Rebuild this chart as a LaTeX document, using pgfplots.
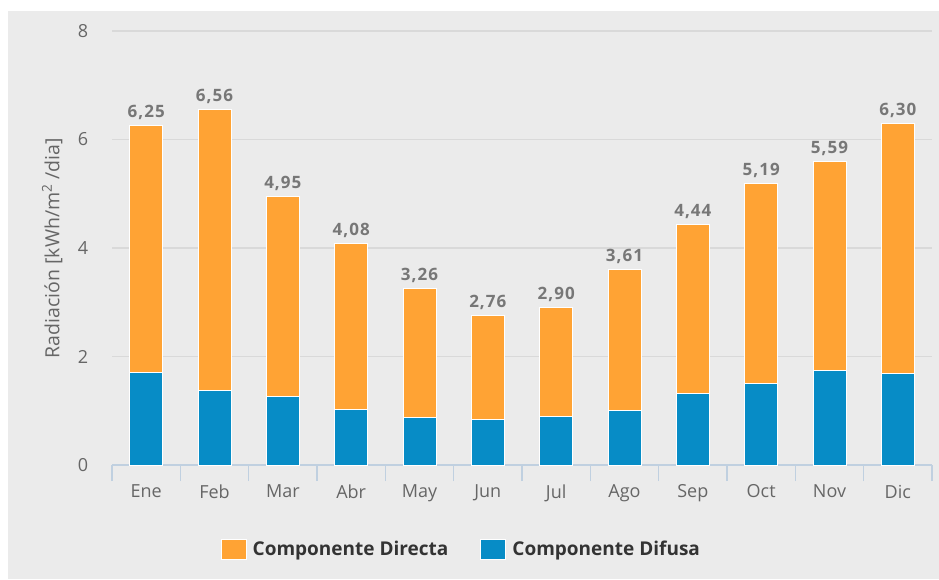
\documentclass[border=0pt]{standalone}
\usepackage{fontspec}
\setmainfont{Open Sans}
\newfontfamily\labfont[LetterSpace=6]{Open Sans}
\usepackage{pgfplots}
\pgfplotsset{compat=1.18}
\usepackage{pgfplotstable}

\definecolor{bgc}{HTML}{EBEBEB}
\definecolor{dirc}{HTML}{FFA334}
\definecolor{difc}{HTML}{078CC6}
\definecolor{gridc}{HTML}{D9D9D9}
\definecolor{axc}{HTML}{C0D0E0}
\definecolor{tickc}{HTML}{666666}
\definecolor{labc}{HTML}{777777}
\definecolor{legc}{HTML}{333333}

% x, difusa, total (directa = total - difusa)
\pgfplotstableread{
x dif tot
0 1.70 6.25
1 1.38 6.56
2 1.26 4.95
3 1.03 4.08
4 0.87 3.26
5 0.83 2.76
6 0.90 2.90
7 1.01 3.61
8 1.32 4.44
9 1.51 5.19
10 1.75 5.59
11 1.69 6.30
}\radtable

\begin{document}
\begin{tikzpicture}[x=1pt,y=1pt]
\path[use as bounding box] (0,0) rectangle (939,579);
\fill[bgc] (8,0) rectangle (939,568);
\begin{axis}[
    at={(112pt,114pt)}, anchor=south west,
    scale only axis, width=820pt, height=434pt,
    ybar, bar width=33pt, bar shift=0pt,
    xmin=-0.5, xmax=11.5, ymin=0, ymax=8,
    xtick={0,...,11},
    xticklabels={Ene,Feb,Mar,Abr,May,Jun,Jul,Ago,Sep,Oct,Nov,Dic},
    minor xtick={-0.5,0.5,...,11.5},
    ytick={0,2,...,8},
    major x tick style={draw=none},
    minor x tick style={draw=axc, line width=1.5pt},
    minor tick length=16pt,
    xtick pos=bottom, tick align=outside,
    major y tick style={draw=none},
    ymajorgrids, grid style={gridc, line width=1.5pt},
    axis x line*=bottom, axis y line*=left,
    separate axis lines,
    x axis line style={draw=axc, line width=1.5pt, -},
    y axis line style={draw=none},
    /pgf/number format/assume math mode=true,
    tick label style={font=\fontsize{18}{21}\selectfont, text=tickc},
    xticklabel style={yshift=-12pt},
    yticklabel style={xshift=-16pt},
    ylabel={Radiación [kWh/m\textsuperscript{2} /dia]},
    ylabel style={at={(axis description cs:-0.073,0.5)}, anchor=center,
        font=\fontsize{19.5}{22}\selectfont, text=tickc},
    legend style={at={(0.426,-0.194)}, anchor=center, draw=none, fill=none,
        legend columns=2, font=\bfseries\fontsize{19}{22}\selectfont, text=legc,
        /tikz/every even column/.append style={column sep=30pt}},
    legend image code/.code={\fill[#1] (0pt,-10pt) rectangle (25pt,10pt);},
    legend cell align=left,
    clip=false,
]
\addplot[fill=dirc, draw=white, line width=1pt,
    nodes near coords={\pgfmathprintnumber[fixed,fixed zerofill,precision=2,use comma]{\pgfplotspointmeta}},
    every node near coord/.append style={font=\labfont\bfseries\fontsize{17}{20}\selectfont,
        text=labc, anchor=south, yshift=2pt}]
    table[x=x,y=tot] {\radtable};
\addlegendentry{\hspace{4pt}Componente Directa}
\addplot[fill=difc, draw=white, line width=1pt] table[x=x,y=dif] {\radtable};
\addlegendentry{\hspace{4pt}Componente Difusa}
\end{axis}
\end{tikzpicture}
\end{document}
